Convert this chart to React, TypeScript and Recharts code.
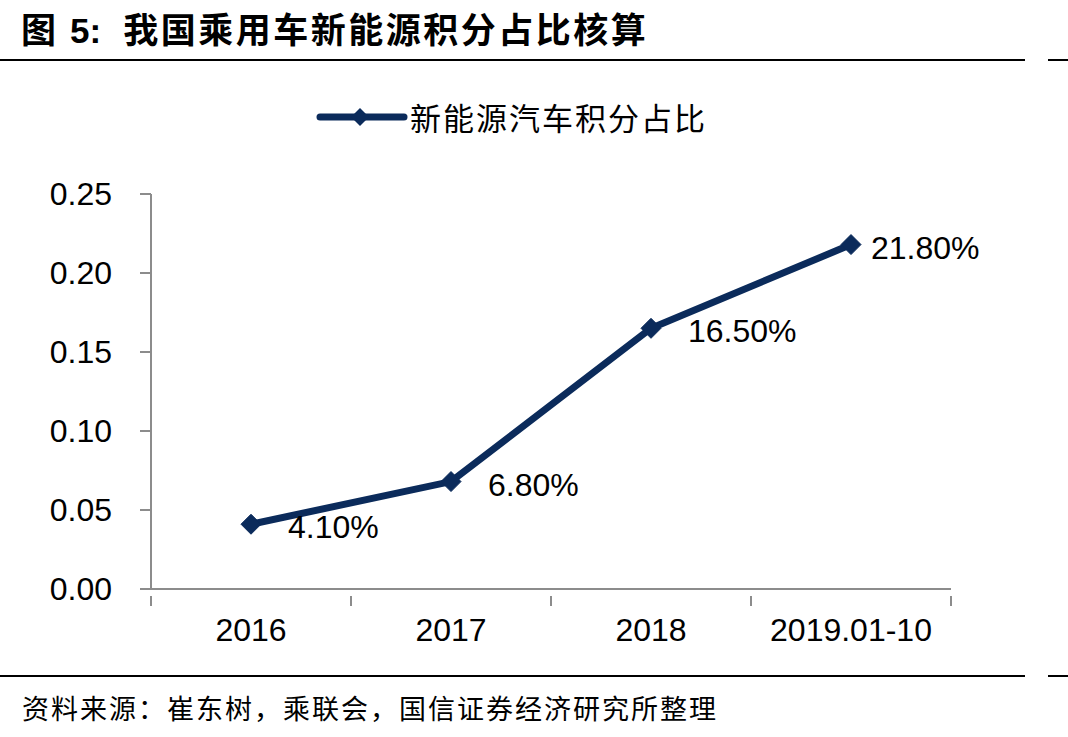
import React from "react";
import { LineChart, Line, XAxis, YAxis, LabelList } from "recharts";

const categories = ["2016", "2017", "2018", "2019.01-10"];
const creditShare = [0.041, 0.068, 0.165, 0.218];
const yTicks = [0, 0.05, 0.1, 0.15, 0.2, 0.25];
const seriesName = "新能源汽车积分占比";
const titleText = "我国乘用车新能源积分占比核算";
const sourceText = "资料来源：崔东树，乘联会，国信证券经济研究所整理";

const data = categories.map((c, i) => ({ name: c, value: creditShare[i] }));

const NAVY = "#0B2B5B";
const AXIS = "#8C8C8C";
const LATIN = "'Liberation Sans', Arial, sans-serif";
const CJK = "'Noto Sans CJK SC', sans-serif";

const W = 1068;
const H = 737;
const PLOT_LEFT = 151;
const PLOT_RIGHT = 951;
const PLOT_TOP = 194;
const PLOT_BOTTOM = 589;
const BAND = (PLOT_RIGHT - PLOT_LEFT) / categories.length;

const Diamond = (props: any) => {
  const { cx, cy } = props;
  if (cx == null || cy == null) return null;
  const r = 10;
  return (
    <path
      d={`M${cx},${cy - r}L${cx + r},${cy}L${cx},${cy + r}L${cx - r},${cy}Z`}
      fill={NAVY}
      stroke={NAVY}
      strokeWidth={1}
    />
  );
};

const CategoryTick = (props: any) => {
  const { x, y, payload, index } = props;
  const left = x - BAND / 2;
  const right = x + BAND / 2;
  return (
    <g>
      <line x1={left} y1={y - 1} x2={left} y2={y + 9} stroke={AXIS} strokeWidth={2} />
      {index === categories.length - 1 && (
        <line x1={right} y1={y - 1} x2={right} y2={y + 9} stroke={AXIS} strokeWidth={2} />
      )}
      <text
        x={x}
        y={y + 33}
        textAnchor="middle"
        dominantBaseline="central"
        fontFamily={LATIN}
        fontSize={32}
        fill="#000"
      >
        {payload.value}
      </text>
    </g>
  );
};

const ValueLabel = (props: any) => {
  const { x, y, value, index } = props;
  const dx = index === creditShare.length - 1 ? 20 : 37;
  return (
    <text
      x={x + dx}
      y={y + 3}
      dominantBaseline="central"
      fontFamily={LATIN}
      fontSize={32}
      fill="#000"
    >
      {(value * 100).toFixed(2) + "%"}
    </text>
  );
};

const SeriesLegend = () => (
  <div style={{ position: "absolute", left: 0, top: 95, width: W, height: 50 }}>
    <svg width={100} height={50} style={{ position: "absolute", left: 312, top: 0 }}>
      <line x1={8} y1={22} x2={92} y2={22} stroke={NAVY} strokeWidth={7} strokeLinecap="round" />
      <path d="M48,13L57,22L48,31L39,22Z" fill={NAVY} />
    </svg>
    <div
      style={{
        position: "absolute",
        left: 410,
        top: 0,
        height: 44,
        lineHeight: "44px",
        fontFamily: CJK,
        fontSize: 31,
        letterSpacing: 2,
        color: "#000",
        whiteSpace: "nowrap",
      }}
    >
      {seriesName}
    </div>
  </div>
);

export default function App() {
  return (
    <div
      style={{
        position: "absolute",
        left: 0,
        top: 0,
        width: W,
        height: H,
        background: "#fff",
        overflow: "hidden",
      }}
    >
      <div
        style={{
          position: "absolute",
          left: 21,
          top: 3,
          height: 50,
          lineHeight: "50px",
          fontSize: 35,
          fontWeight: 700,
          color: "#000",
          whiteSpace: "nowrap",
        }}
      >
        <span style={{ fontFamily: CJK }}>图</span>
        <span style={{ fontFamily: LATIN, marginLeft: 14 }}>5:</span>
        <span style={{ fontFamily: CJK, marginLeft: 22, letterSpacing: 2.5 }}>{titleText}</span>
      </div>
      <div style={{ position: "absolute", left: 0, top: 59, width: 1025, height: 2, background: "#000" }} />
      <div style={{ position: "absolute", left: 1048, top: 59, width: 20, height: 2, background: "#000" }} />

      <SeriesLegend />

      <div style={{ position: "absolute", left: 0, top: 0 }}>
        <LineChart
          width={W}
          height={H}
          data={data}
          margin={{ top: PLOT_TOP, right: W - PLOT_RIGHT, bottom: H - PLOT_BOTTOM - 60, left: 0 }}
        >
          <XAxis
            dataKey="name"
            scale="band"
            height={60}
            axisLine={{ stroke: AXIS, strokeWidth: 2 }}
            tickLine={false}
            tick={<CategoryTick />}
            interval={0}
          />
          <YAxis
            width={PLOT_LEFT}
            domain={[0, 0.25]}
            ticks={yTicks}
            interval={0}
            axisLine={{ stroke: AXIS, strokeWidth: 2 }}
            tickLine={{ stroke: AXIS, strokeWidth: 2 }}
            tickSize={11}
            tickMargin={28}
            tickFormatter={(v: number) => v.toFixed(2)}
            tick={{ fontFamily: LATIN, fontSize: 32, fill: "#000" }}
          />
          <Line
            type="linear"
            dataKey="value"
            name={seriesName}
            stroke={NAVY}
            strokeWidth={7}
            dot={<Diamond />}
            activeDot={false}
            isAnimationActive={false}
          >
            <LabelList dataKey="value" content={<ValueLabel />} />
          </Line>
        </LineChart>
      </div>

      <div style={{ position: "absolute", left: 0, top: 675, width: 1025, height: 2, background: "#000" }} />
      <div style={{ position: "absolute", left: 1048, top: 675, width: 20, height: 2, background: "#000" }} />
      <div
        style={{
          position: "absolute",
          left: 22,
          top: 690,
          height: 36,
          lineHeight: "36px",
          fontFamily: CJK,
          fontSize: 27,
          letterSpacing: 2,
          color: "#000",
          whiteSpace: "nowrap",
        }}
      >
        {sourceText}
      </div>
    </div>
  );
}
